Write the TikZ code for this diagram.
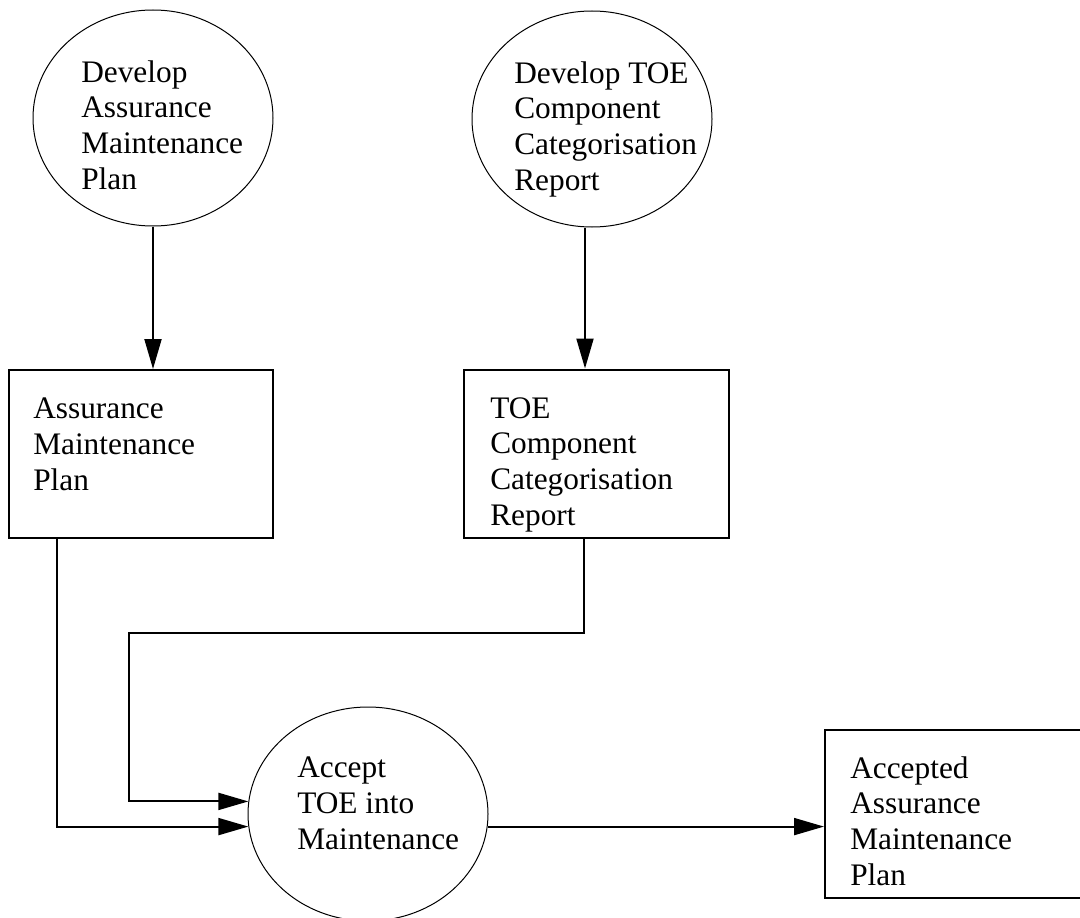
\documentclass[tikz,border=0pt]{standalone}
\usepackage{fontspec}
\setmainfont{Liberation Serif}
\usetikzlibrary{shapes.geometric,arrows.meta}
\begin{document}
\begin{tikzpicture}[x=0.75pt,y=-0.75pt,
  proc/.style={ellipse,draw,line width=0.75pt,minimum width=180pt,minimum height=162pt,inner sep=0pt},
  store/.style={rectangle,draw,line width=1.5pt,inner sep=0pt,minimum height=126pt},
  lbl/.style={anchor=base west,align=left,inner sep=0pt,font=\fontsize{23.5}{26.7}\selectfont},
  arr/.style={line width=1.5pt,-{Triangle[length=22.5pt,width=12.75pt]}}]
\useasboundingbox (0,0) rectangle (1080,917);
\clip (0,0) rectangle (1080,917);
\fill[white] (0,0) rectangle (1080,917);

% shapes
\node[proc] (e1) at (153,118) {};
\node[proc] (e2) at (592,119) {};
\node[store,minimum width=198pt] (b1) at (141,454) {};
\node[store,minimum width=198.75pt] (b2) at (596.5,453.5) {};
\node[proc,minimum height=160.5pt] (e3) at (368,814) {};
\node[store,minimum width=202.5pt] (b3) at (960,814) {};

% texts (anchored at the baseline of the last line)
\node[lbl] (t1) at (81,189) {Develop\\Assurance\\Maintenance\\Plan};
\node[lbl] (t2) at (514,190) {Develop TOE\\Component\\Categorisation\\Report};
\node[lbl] (t3) at (33,490) {Assurance\\Maintenance\\Plan};
\node[lbl] (t4) at (490,525) {TOE\\Component\\Categorisation\\Report};
\node[lbl] (t5) at (297,849) {Accept\\TOE into\\Maintenance};
\node[lbl] (t6) at (850,885) {Accepted\\Assurance\\Maintenance\\Plan};

% connectors
\coordinate (k) at (129,633);
\draw[arr] (e1.south) -- (e1.south |- b1.north);
\draw[arr] ([xshift=-5.25pt]e2.south) -- ([xshift=-5.25pt]e2.south |- b2.north);
\draw[arr] ([xshift=-63pt]b1.south) |- (e3.186);
\draw[arr] ([xshift=-9.4pt]b2.south) |- (k) |- (e3.174);
\draw[arr] (e3.354) -- (b3.west |- e3.354);
\end{tikzpicture}
\end{document}
